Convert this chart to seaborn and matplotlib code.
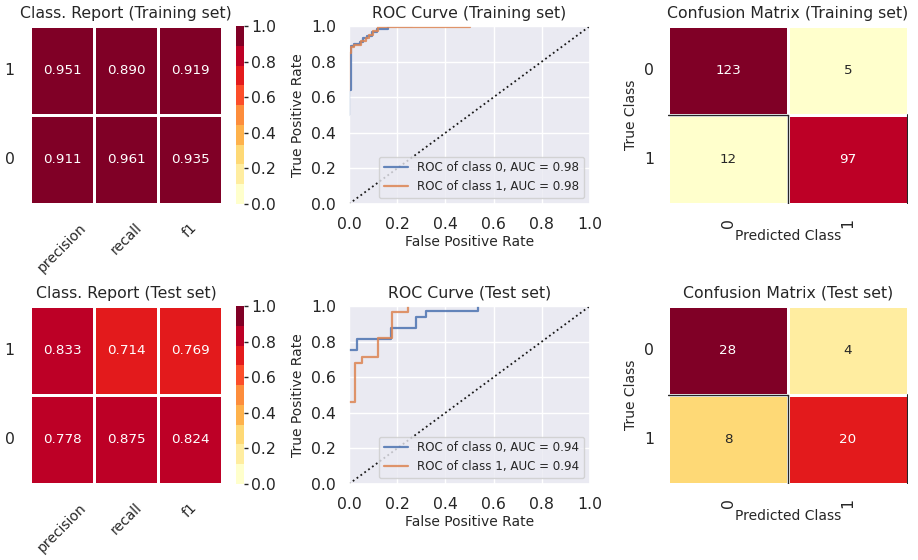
import numpy as np
import pandas as pd
import matplotlib
matplotlib.use("Agg")
import matplotlib.pyplot as plt
import seaborn as sns

sns.set_theme(style="darkgrid", context="notebook")
plt.rcParams.update({
    "axes.titlesize": 11.3,
    "axes.labelsize": 10,
    "xtick.labelsize": 11.3,
    "ytick.labelsize": 11.3,
})

# --- data ---
metrics = ["precision", "recall", "f1"]
classes = ["0", "1"]

report_train_0 = [0.911, 0.961, 0.935]
report_train_1 = [0.951, 0.890, 0.919]
report_test_0 = [0.778, 0.875, 0.824]
report_test_1 = [0.833, 0.714, 0.769]

cm_train = [[123, 5], [12, 97]]
cm_test = [[28, 4], [8, 20]]

# ROC step curves (training set)
roc_train_fpr_0 = [0, 0, 0.007, 0.007, 0.02, 0.02, 0.045, 0.045, 0.06, 0.06, 0.075, 0.075,
                   0.095, 0.095, 0.115, 0.115, 0.16, 0.16, 0.26]
roc_train_tpr_0 = [0.5, 0.64, 0.64, 0.888, 0.888, 0.9, 0.9, 0.91, 0.91, 0.93, 0.93, 0.945,
                   0.945, 0.965, 0.965, 0.985, 0.985, 1.0, 1.0]
roc_train_fpr_1 = [0, 0, 0.008, 0.008, 0.022, 0.022, 0.05, 0.05, 0.07, 0.07, 0.085, 0.085,
                   0.1, 0.1, 0.12, 0.12, 0.5]
roc_train_tpr_1 = [0.64, 0.846, 0.846, 0.88, 0.88, 0.895, 0.895, 0.915, 0.915, 0.93, 0.93,
                   0.95, 0.95, 0.97, 0.97, 0.995, 0.995]

# ROC step curves (test set)
roc_test_fpr_0 = [0, 0.033, 0.033, 0.173, 0.173, 0.28, 0.28, 0.319, 0.319, 0.536, 0.536]
roc_test_tpr_0 = [0.753, 0.753, 0.816, 0.816, 0.878, 0.878, 0.938, 0.938, 0.972, 0.972, 1.0]
roc_test_fpr_1 = [0, 0.025, 0.025, 0.055, 0.055, 0.119, 0.119, 0.18, 0.18, 0.245, 0.245]
roc_test_tpr_1 = [0.459, 0.459, 0.682, 0.682, 0.713, 0.713, 0.818, 0.818, 0.968, 0.968, 1.0]

auc_train = [0.98, 0.98]
auc_test = [0.94, 0.94]

cmap = matplotlib.colormaps["YlOrRd"].resampled(9)
blue, orange = sns.color_palette("deep")[:2]

fig = plt.figure(figsize=(9.18, 5.6), dpi=100)
W, H = 918, 560


def px_axes(left, top, right, bottom):
    return fig.add_axes([left / W, 1 - bottom / H, (right - left) / W, (bottom - top) / H])


def class_report(ax, cax, row0, row1, title):
    df = pd.DataFrame([row1, row0], index=["1", "0"], columns=metrics)
    sns.heatmap(df, ax=ax, cbar_ax=cax, cmap=cmap, vmin=0, vmax=1, annot=True, fmt=".3f",
                linewidths=2, linecolor="white", annot_kws={"fontsize": 9.7},
                cbar_kws={"ticks": [0, 0.2, 0.4, 0.6, 0.8, 1.0]})
    ax.set_title(title)
    ax.set_xticklabels(metrics, rotation=45, fontsize=10)
    ax.set_yticklabels(["1", "0"], rotation=0)
    ax.tick_params(axis="y", length=0, pad=11)
    ax.tick_params(axis="x", length=0, pad=12)
    cax.tick_params(length=3, width=1, color="0.15", pad=2)


def roc_plot(ax, fpr0, tpr0, fpr1, tpr1, aucs, title):
    ax.plot(fpr0, tpr0, color=blue, alpha=0.85, lw=1.6,
            label="ROC of class 0, AUC = {:.2f}".format(aucs[0]))
    ax.plot(fpr1, tpr1, color=orange, alpha=0.85, lw=1.6,
            label="ROC of class 1, AUC = {:.2f}".format(aucs[1]))
    ax.plot([0, 1], [0, 1], linestyle=":", color="0.1", lw=1.3)
    ax.set_xlim(0, 1)
    ax.set_ylim(0, 1)
    ax.set_xticks([0, 0.2, 0.4, 0.6, 0.8, 1.0])
    ax.set_yticks([0, 0.2, 0.4, 0.6, 0.8, 1.0])
    ax.set_title(title)
    ax.set_xlabel("False Positive Rate", labelpad=2)
    ax.set_ylabel("True Positive Rate", labelpad=4)
    ax.legend(loc="lower right", fontsize=8.6)


def conf_matrix(ax, cm, title):
    df = pd.DataFrame(cm, index=classes, columns=classes)
    sns.heatmap(df, ax=ax, cmap=cmap, vmin=0, vmax=np.max(cm), annot=True, fmt="d",
                cbar=False, linewidths=1, linecolor="white", annot_kws={"fontsize": 9.7})
    # dark cell edges around the lower row
    ax.axhline(1, xmax=0.5, color="0.15", lw=1)
    ax.axvline(1, ymax=0.5, color="0.15", lw=1)
    ax.axvline(2, ymax=0.5, color="0.15", lw=1.5)
    ax.set_title(title)
    ax.set_xticklabels(classes, rotation=90)
    ax.set_yticklabels(classes, rotation=0)
    ax.tick_params(axis="y", length=0, pad=10)
    ax.tick_params(axis="x", length=0, pad=10)
    ax.set_xlabel("Predicted Class", labelpad=1)
    ax.set_ylabel("True Class", labelpad=4)


for top, bottom, tag, r0, r1, roc, aucs, cm in [
    (26, 204, "Training set", report_train_0, report_train_1,
     (roc_train_fpr_0, roc_train_tpr_0, roc_train_fpr_1, roc_train_tpr_1), auc_train, cm_train),
    (306, 484, "Test set", report_test_0, report_test_1,
     (roc_test_fpr_0, roc_test_tpr_0, roc_test_fpr_1, roc_test_tpr_1), auc_test, cm_test),
]:
    ax_cr = px_axes(30, top, 222, bottom)
    cax = px_axes(236, top, 244, bottom)
    class_report(ax_cr, cax, r0, r1, "Class. Report ({})".format(tag))

    ax_roc = px_axes(349, top, 590, bottom)
    roc_plot(ax_roc, *roc, aucs, "ROC Curve ({})".format(tag))

    ax_cm = px_axes(668, top, 908, bottom)
    conf_matrix(ax_cm, cm, "Confusion Matrix ({})".format(tag))

fig.savefig("out.png", dpi=100)
